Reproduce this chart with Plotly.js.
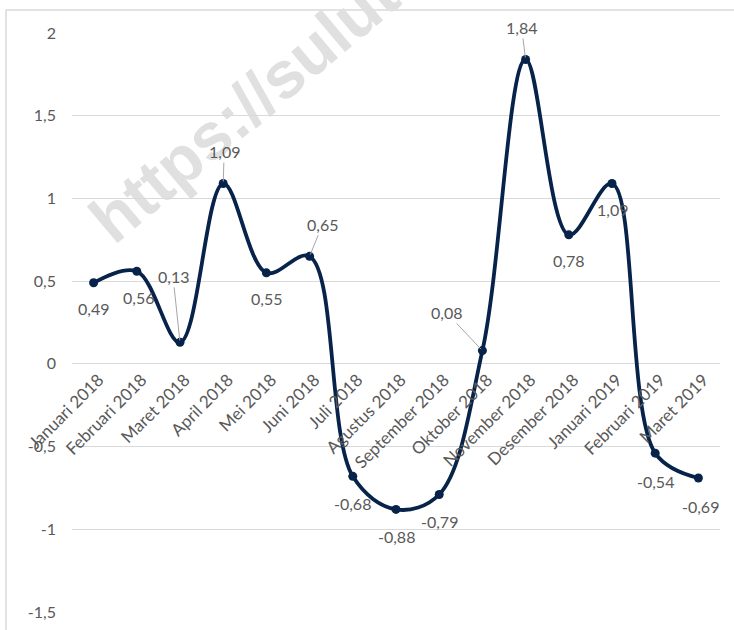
<!DOCTYPE html>
<html>
<head>
<meta charset="utf-8">
<script src="https://cdn.plot.ly/plotly-3.0.1.min.js"></script>
<style>
  html, body { margin: 0; padding: 0; background: #ffffff; }
  #chart { width: 734px; height: 630px; }
</style>
</head>
<body>
<div id="chart"></div>
<script>
// Monthly values, Januari 2018 – Maret 2019
const categories = [
  'Januari 2018', 'Februari 2018', 'Maret 2018', 'April 2018', 'Mei 2018',
  'Juni 2018', 'Juli 2018', 'Agustus 2018', 'September 2018', 'Oktober 2018',
  'November 2018', 'Desember 2018', 'Januari 2019', 'Februari 2019', 'Maret 2019'
];
const values = [0.49, 0.56, 0.13, 1.09, 0.55, 0.65, -0.68, -0.88, -0.79, 0.08, 1.84, 0.78, 1.09, -0.54, -0.69];
const yTickValues = [-1.5, -1, -0.5, 0, 0.5, 1, 1.5, 2];

// Label placement (pixel offsets from each point; leader = draw a thin connector)
const labelPlacement = [
  { ax: 0, ay: 26 }, { ax: 2, ay: 26 }, { ax: -7, ay: -66, leader: true },
  { ax: 1, ay: -32, leader: true }, { ax: 0, ay: 26 }, { ax: 13, ay: -32, leader: true },
  { ax: 0, ay: 27 }, { ax: 0, ay: 27 }, { ax: 0, ay: 27 },
  { ax: -36, ay: -38, leader: true }, { ax: -4, ay: -32, leader: true }, { ax: 0, ay: 26 },
  { ax: 0, ay: 26 }, { ax: 0, ay: 28 }, { ax: 2, ay: 28 }
];

const FONT = 'Lato, "Open Sans", sans-serif';
const TEXT_COLOR = '#595959';
const LINE_COLOR = '#07234a';
const W = 734, H = 630;
const M = { l: 72, r: 14, t: 33, b: 18 };
const plotW = W - M.l - M.r, plotH = H - M.t - M.b;

const fmt = v => v.toFixed(2).replace('.', ',');
const fmtTick = v => String(v).replace('.', ',');

// Background: chart frame and diagonal watermark
const bgSvg =
  '<svg xmlns="http://www.w3.org/2000/svg" width="' + W + '" height="' + H + '" viewBox="0 0 ' + W + ' ' + H + '">' +
  '<line x1="6" y1="10" x2="' + W + '" y2="10" stroke="#d9d9d9" stroke-width="1.5"/>' +
  '<line x1="6" y1="10" x2="6" y2="' + H + '" stroke="#d9d9d9" stroke-width="1.5"/>' +
  '<text x="0" y="0" transform="translate(114,246) rotate(-40)" font-family="Liberation Sans, Arial, sans-serif" ' +
  'font-weight="bold" font-size="66" fill="#e0e0e0">https://sulut.bps.go.id</text>' +
  '</svg>';
const bgUrl = 'data:image/svg+xml;charset=utf-8,' + encodeURIComponent(bgSvg);

const trace = {
  type: 'scatter',
  mode: 'lines+markers',
  x: categories,
  y: values,
  line: { color: LINE_COLOR, width: 3.8, shape: 'spline', smoothing: 1 },
  marker: { color: LINE_COLOR, size: 9 },
  cliponaxis: false,
  hoverinfo: 'x+y'
};

const annotations = values.map((v, i) => {
  const p = labelPlacement[i];
  return {
    x: categories[i],
    y: v,
    xref: 'x',
    yref: 'y',
    text: fmt(v),
    showarrow: true,
    arrowhead: 0,
    arrowwidth: 1,
    arrowcolor: p.leader ? '#a6a6a6' : 'rgba(0,0,0,0)',
    standoff: 2,
    ax: p.ax,
    ay: p.ay,
    font: { family: FONT, size: 16, color: TEXT_COLOR }
  };
});

const layout = {
  width: W,
  height: H,
  margin: { l: M.l, r: M.r, t: M.t, b: M.b, pad: 0 },
  paper_bgcolor: '#ffffff',
  plot_bgcolor: 'rgba(0,0,0,0)',
  showlegend: false,
  xaxis: {
    type: 'category',
    categoryorder: 'array',
    categoryarray: categories,
    range: [-0.5, categories.length - 0.5],
    anchor: 'free',
    position: 1.5 / 3.5,
    showgrid: false,
    showline: false,
    zeroline: false,
    ticks: '',
    tickangle: -45,
    ticklabelshift: 5,
    ticklabelstandoff: 2,
    tickfont: { family: FONT, size: 17, color: TEXT_COLOR },
    automargin: false
  },
  yaxis: {
    range: [-1.5, 2],
    tickvals: yTickValues,
    ticktext: yTickValues.map(fmtTick),
    showgrid: true,
    gridcolor: '#d9d9d9',
    gridwidth: 1,
    zeroline: false,
    showline: false,
    ticks: '',
    ticklabelstandoff: 15,
    tickfont: { family: FONT, size: 16, color: TEXT_COLOR },
    automargin: false
  },
  images: [{
    source: bgUrl,
    xref: 'paper',
    yref: 'paper',
    x: -M.l / plotW,
    y: 1 + M.t / plotH,
    sizex: W / plotW,
    sizey: H / plotH,
    sizing: 'stretch',
    xanchor: 'left',
    yanchor: 'top',
    layer: 'below'
  }],
  annotations: annotations
};

Plotly.newPlot('chart', [trace], layout, { displayModeBar: false, staticPlot: true });
</script>
</body>
</html>
